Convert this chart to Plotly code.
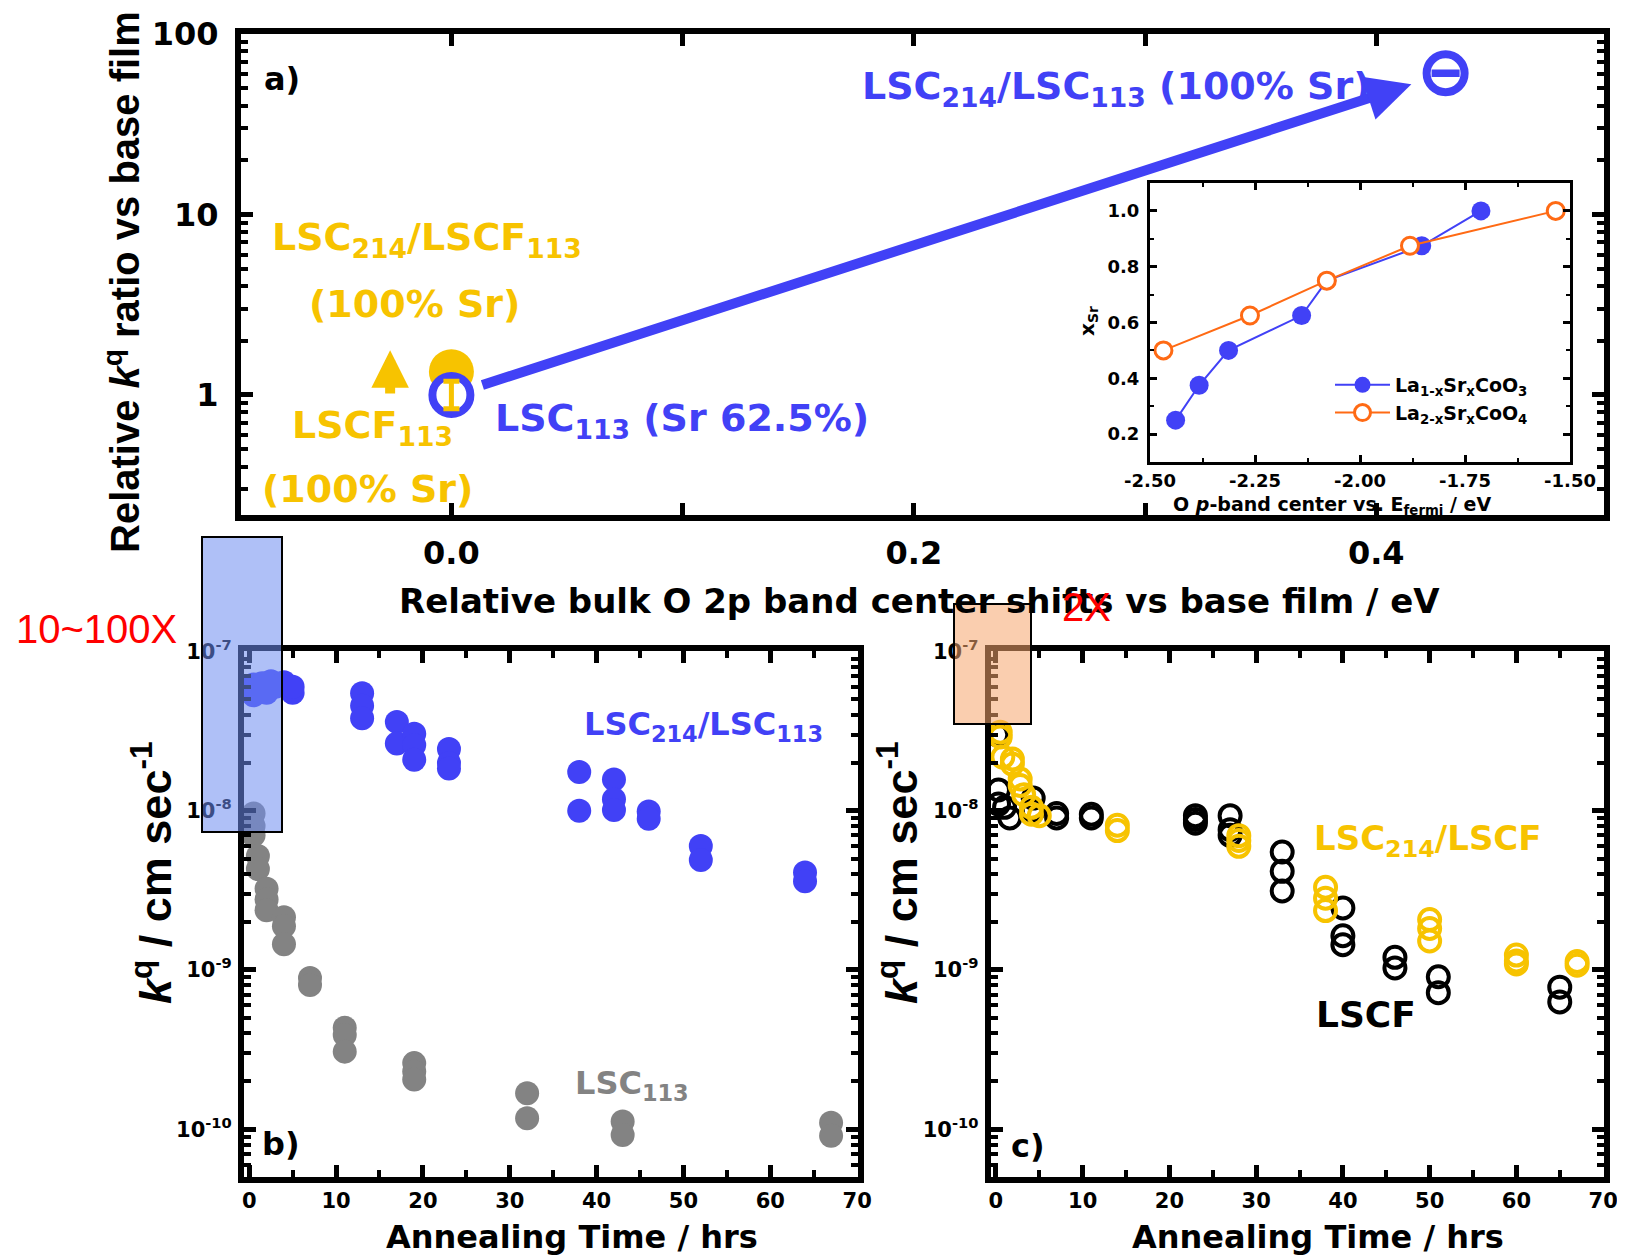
import numpy as np
import plotly.graph_objects as go

# page body margin (8 px) is compensated for by shrinking the figure and shifting coordinates
OFF = 8
W, H = 1625 - OFF, 1257 - OFF
def px(x): return (x - OFF) / W
def py(y): return 1 - (y - OFF) / H

BLUE = "#4141f6"
YELLOW = "#f7c300"
GRAY = "#838383"
ORANGE = "#ff6a14"
FH = "DejaVu Sans"          # horizontal text
FV = "Liberation Sans"      # rotated text
FR = "Liberation Sans"      # red notes

# ---------------- panel a data ----------------
a_lsc113_x = [0.0];  a_lsc113_y = [1.0]
a_lscf_x = [0.0];    a_lscf_y = [1.345]
a_214_x = [0.43];    a_214_y = [60.6]
a_lscf_err_plus = [0.19]; a_lscf_err_minus = [0.16]
a_214_err = [0.6]
a_up_arrow_x = -0.0265
a_up_arrow_y = [1.0, 1.77]

# ---------------- inset data ----------------
in_x_113 = [-2.439, -2.383, -2.313, -2.139, -2.079, -1.853, -1.712]
in_y_113 = [0.25, 0.375, 0.5, 0.625, 0.75, 0.875, 1.0]
in_x_214 = [-2.468, -2.262, -2.079, -1.881, -1.534]
in_y_214 = [0.5, 0.625, 0.75, 0.875, 1.0]

# ---------------- panel b data ----------------
b_t_214 = [0.5, 0.5, 1, 1.5, 2, 2.5, 3, 4, 5, 5,
           13, 13, 13, 17, 17, 19, 19, 19, 23, 23, 23,
           38, 38, 42, 42, 42, 46, 46, 52, 52, 64, 64]
b_k_214 = [5.3e-8, 6.2e-8, 5.8e-8, 6.3e-8, 5.5e-8, 6.5e-8, 6.0e-8, 6.4e-8, 5.5e-8, 6.0e-8,
           5.47e-8, 4.56e-8, 3.8e-8, 3.61e-8, 2.64e-8, 3.04e-8, 2.58e-8, 2.09e-8, 2.44e-8, 1.99e-8, 1.84e-8,
           1.75e-8, 1.0e-8, 1.57e-8, 1.18e-8, 1.01e-8, 9.87e-9, 8.9e-9, 6.0e-9, 4.9e-9, 4.09e-9, 3.6e-9]
b_t_113 = [0.5, 0.5, 0.5, 1, 1, 2, 2, 2, 4, 4, 4, 7, 7, 11, 11, 11,
           19, 19, 19, 32, 32, 43, 43, 67, 67]
b_k_113 = [9.6e-9, 8.0e-9, 7.0e-9, 5.2e-9, 4.3e-9, 3.24e-9, 2.77e-9, 2.37e-9,
           2.14e-9, 1.88e-9, 1.45e-9, 8.9e-10, 8.05e-10, 4.33e-10, 3.91e-10, 3.07e-10,
           2.6e-10, 2.3e-10, 2.05e-10, 1.68e-10, 1.17e-10, 1.12e-10, 9.2e-11, 1.1e-10, 9.1e-11]

# ---------------- panel c data ----------------
c_t_lscf = [0.1, 0.3, 0.3, 1.0, 1.6, 4.3, 4.3, 7, 7, 11, 11,
            23, 23, 23, 27, 27, 27, 33, 33, 33, 40, 40, 40, 46, 46, 51, 51, 65, 65]
c_k_lscf = [3.0e-8, 1.35e-8, 1.1e-8, 1.05e-8, 9.0e-9, 1.2e-8, 1.0e-8, 9.6e-9, 9.0e-9, 9.5e-9, 9.0e-9,
            9.3e-9, 8.8e-9, 8.35e-9, 9.3e-9, 7.6e-9, 7.0e-9, 5.5e-9, 4.16e-9, 3.13e-9,
            2.45e-9, 1.64e-9, 1.44e-9, 1.2e-9, 1.03e-9, 9.06e-10, 7.2e-10, 7.8e-10, 6.3e-10]
c_t_214 = [0.5, 0.5, 0.8, 1.9, 1.9, 2.8, 2.8, 3.2, 4.1, 4.1, 5.0,
           14, 14, 28, 28, 28, 38, 38, 38, 50, 50, 50, 60, 60, 60, 67, 67]
c_k_214 = [3.11e-8, 2.9e-8, 2.17e-8, 2.11e-8, 1.96e-8, 1.58e-8, 1.44e-8, 1.26e-8, 1.05e-8, 9.5e-9, 9.3e-9,
           8.1e-9, 7.5e-9, 6.97e-9, 6.5e-9, 5.97e-9, 3.3e-9, 2.82e-9, 2.36e-9,
           2.07e-9, 1.82e-9, 1.52e-9, 1.24e-9, 1.14e-9, 1.09e-9, 1.13e-9, 1.07e-9]

k_tickvals = [1e-10, 1e-9, 1e-8, 1e-7]
k_ticktext = ["10<sup>-10</sup>", "10<sup>-9</sup>", "10<sup>-8</sup>", "10<sup>-7</sup>"]

fig = go.Figure()

# panel a
fig.add_trace(go.Scatter(x=a_lscf_x, y=a_lscf_y, mode="markers", xaxis="x", yaxis="y",
                         marker=dict(size=45, color=YELLOW), showlegend=False))
fig.add_trace(go.Scatter(x=a_lsc113_x, y=a_lsc113_y, mode="markers", xaxis="x", yaxis="y",
                         marker=dict(size=38, color="white", line=dict(color=BLUE, width=8)),
                         showlegend=False))
fig.add_trace(go.Scatter(x=a_lsc113_x, y=a_lsc113_y, mode="markers", xaxis="x", yaxis="y",
                         marker=dict(size=1, color=YELLOW),
                         error_y=dict(type="data", array=a_lscf_err_plus, arrayminus=a_lscf_err_minus,
                                      color=YELLOW, thickness=5, width=8),
                         showlegend=False))
fig.add_trace(go.Scatter(x=a_214_x, y=a_214_y, mode="markers", xaxis="x", yaxis="y",
                         marker=dict(size=38, color="white", line=dict(color=BLUE, width=8)),
                         showlegend=False))
fig.add_trace(go.Scatter(x=a_214_x, y=a_214_y, mode="markers", xaxis="x", yaxis="y",
                         marker=dict(size=1, color=BLUE),
                         error_y=dict(type="data", array=a_214_err, color=BLUE, thickness=6, width=14),
                         showlegend=False))

# inset
fig.add_trace(go.Scatter(x=in_x_113, y=in_y_113, mode="lines+markers", xaxis="x4", yaxis="y4",
                         name="La<sub>1-x</sub>Sr<sub>x</sub>CoO<sub>3</sub>",
                         line=dict(color=BLUE, width=2),
                         marker=dict(size=19, color=BLUE)))
fig.add_trace(go.Scatter(x=in_x_214, y=in_y_214, mode="lines+markers", xaxis="x4", yaxis="y4",
                         name="La<sub>2-x</sub>Sr<sub>x</sub>CoO<sub>4</sub>",
                         line=dict(color=ORANGE, width=2),
                         marker=dict(size=17, color="white", line=dict(color=ORANGE, width=3))))

# panel b
fig.add_trace(go.Scatter(x=b_t_113, y=b_k_113, mode="markers", xaxis="x2", yaxis="y2",
                         marker=dict(size=24, color=GRAY), showlegend=False))
fig.add_trace(go.Scatter(x=b_t_214, y=b_k_214, mode="markers", xaxis="x2", yaxis="y2",
                         marker=dict(size=24, color=BLUE), showlegend=False))

# panel c
fig.add_trace(go.Scatter(x=c_t_lscf, y=c_k_lscf, mode="markers", xaxis="x3", yaxis="y3",
                         marker=dict(size=21, color="rgba(0,0,0,0)", line=dict(color="black", width=4)),
                         showlegend=False))
fig.add_trace(go.Scatter(x=c_t_214, y=c_k_214, mode="markers", xaxis="x3", yaxis="y3",
                         marker=dict(size=21, color="rgba(0,0,0,0)", line=dict(color=YELLOW, width=4)),
                         showlegend=False))


def axstyle(lw, tl, tw, fs, stand):
    return dict(showline=True, linecolor="black", linewidth=lw, mirror="ticks", ticks="inside",
                ticklen=tl, tickwidth=tw, tickcolor="black", showgrid=False, zeroline=False,
                ticklabelstandoff=stand, automargin=False,
                tickfont=dict(family=FH, size=fs, color="black", weight="bold"))

minor_log = lambda tl, tw: dict(ticks="inside", ticklen=tl, tickwidth=tw, tickcolor="black",
                               dtick="D1", showgrid=False)

fig.update_layout(
    template="none",
    width=W, height=H, margin=dict(l=0, r=0, t=0, b=0, autoexpand=False),
    paper_bgcolor="white", plot_bgcolor="rgba(0,0,0,0)",
    showlegend=True,
    xaxis=dict(domain=[px(241), px(1604)], range=[-0.091, 0.4985], anchor="y",
               tickvals=[0, 0.1, 0.2, 0.3, 0.4], ticktext=["0.0", "", "0.2", "", "0.4"],
               **axstyle(6, 12, 5, 32, 5)),
    yaxis=dict(domain=[py(515), py(34)], type="log", range=[np.log10(0.2163), 2], anchor="x",
               tickvals=[1, 10, 100], ticktext=["1", "10", "100"],
               minor=minor_log(7, 4), **axstyle(6, 12, 5, 32, 10)),
    xaxis2=dict(domain=[px(244), px(858)], range=[-0.6, 70.1], anchor="y2",
                tickvals=list(range(0, 71, 10)),
                minor=dict(ticks="inside", ticklen=7, tickwidth=4, tickcolor="black", dtick=5, showgrid=False),
                **axstyle(6, 12, 5, 21, 0)),
    yaxis2=dict(domain=[py(1177), py(651.4)], type="log", range=[-10.3, -7], anchor="x2",
                tickvals=k_tickvals, ticktext=k_ticktext,
                minor=minor_log(7, 4), **axstyle(6, 12, 5, 21, 2)),
    xaxis3=dict(domain=[px(990.7), px(1604)], range=[-0.6, 70.1], anchor="y3",
                tickvals=list(range(0, 71, 10)),
                minor=dict(ticks="inside", ticklen=7, tickwidth=4, tickcolor="black", dtick=5, showgrid=False),
                **axstyle(6, 12, 5, 21, 0)),
    yaxis3=dict(domain=[py(1177), py(651.4)], type="log", range=[-10.3, -7], anchor="x3",
                tickvals=k_tickvals, ticktext=k_ticktext,
                minor=minor_log(7, 4), **axstyle(6, 12, 5, 21, 2)),
    xaxis4=dict(domain=[px(1150), px(1570)], range=[-2.5, -1.5], anchor="y4",
                tickvals=[-2.5, -2.25, -2.0, -1.75, -1.5], ticktext=["-2.50", "-2.25", "-2.00", "-1.75", "-1.50"],
                minor=dict(ticks="inside", ticklen=4, tickwidth=2, tickcolor="black", dtick=0.125, tick0=-2.5, showgrid=False),
                **axstyle(3, 7, 3, 18, 0)),
    yaxis4=dict(domain=[py(462), py(183)], range=[0.1, 1.1], anchor="x4",
                tickvals=[0.2, 0.4, 0.6, 0.8, 1.0], ticktext=["0.2", "0.4", "0.6", "0.8", "1.0"],
                minor=dict(ticks="inside", ticklen=4, tickwidth=2, tickcolor="black", dtick=0.1, tick0=0, showgrid=False),
                **axstyle(3, 7, 3, 18, 4)),
    legend=dict(x=px(1330), y=py(366), xanchor="left", yanchor="top",
                bgcolor="rgba(0,0,0,0)", itemwidth=55, tracegroupgap=0,
                font=dict(family=FH, size=19, color="black", weight="bold")),
)

anns = []
def txt(x, y, s, size, color="black", family=FH, weight="bold", angle=0, xanchor="center"):
    anns.append(dict(x=px(x), y=py(y), xref="paper", yref="paper", text=s, showarrow=False,
                     xanchor=xanchor, yanchor="middle", textangle=angle,
                     font=dict(family=family, size=size, color=color, weight=weight)))

# panel a texts
txt(282, 79, "a)", 32)
txt(427, 240, "LSC<sub>214</sub>/LSCF<sub>113</sub>", 38, YELLOW)
txt(414, 304, "(100% Sr)", 38, YELLOW)
txt(372, 428, "LSCF<sub>113</sub>", 38, YELLOW)
txt(367, 489, "(100% Sr)", 38, YELLOW)
txt(682, 420, "LSC<sub>113</sub> (Sr 62.5%)", 38, BLUE)
txt(1116, 88, "LSC<sub>214</sub>/LSC<sub>113</sub> (100% Sr)", 38, BLUE)
txt(122, 282, "Relative <i>k</i><sup>q</sup> ratio vs base film", 40, family=FV, angle=-90)
txt(920, 601, "Relative bulk O 2p band center shifts vs base film / eV", 34)
# inset titles
txt(1332, 505, "O <i>p</i>-band center vs. E<sub>fermi</sub> / eV", 19)
txt(1088, 321, "x<sub>Sr</sub>", 20, angle=-90)
# panel b texts
txt(703, 726, "LSC<sub>214</sub>/LSC<sub>113</sub>", 32, BLUE)
txt(632, 1085, "LSC<sub>113</sub>", 32, GRAY)
txt(281, 1144, "b)", 32)
txt(152, 873, "<i>k</i><sup>q</sup> / cm sec<sup>-1</sup>", 45, family=FV, angle=-90)
txt(572, 1237, "Annealing Time / hrs", 32)
# panel c texts
txt(1428, 840, "LSC<sub>214</sub>/LSCF", 34, YELLOW)
txt(1366, 1014, "LSCF", 36)
txt(1028, 1146, "c)", 32)
txt(898, 873, "<i>k</i><sup>q</sup> / cm sec<sup>-1</sup>", 45, family=FV, angle=-90)
txt(1318, 1237, "Annealing Time / hrs", 32)
# red notes
txt(96, 629, "10~100X", 40, "#ff0000", family=FR, weight="normal")
txt(1086, 607, "2X", 40, "#ff0000", family=FR, weight="normal")

# arrows (from data points)
anns.append(dict(x=a_214_x[0], y=np.log10(a_214_y[0]), ax=a_lsc113_x[0], ay=np.log10(a_lsc113_y[0]),
                 xref="x", yref="y", axref="x", ayref="y", text="", showarrow=True,
                 arrowhead=2, arrowsize=0.9, arrowwidth=10, arrowcolor=BLUE,
                 standoff=36, startstandoff=31))
anns.append(dict(x=a_up_arrow_x, y=np.log10(a_up_arrow_y[1]), ax=a_up_arrow_x, ay=np.log10(a_up_arrow_y[0]),
                 xref="x", yref="y", axref="x", ayref="y", text="", showarrow=True,
                 arrowhead=2, arrowsize=0.75, arrowwidth=10, arrowcolor=YELLOW))
fig.update_layout(annotations=anns)

fig.update_layout(shapes=[
    dict(type="rect", xref="paper", yref="paper", x0=px(202), x1=px(282), y0=py(832), y1=py(537),
         fillcolor="rgba(110,140,240,0.55)", line=dict(color="black", width=2), layer="above"),
    dict(type="rect", xref="paper", yref="paper", x0=px(954), x1=px(1031), y0=py(724), y1=py(604),
         fillcolor="rgba(245,165,110,0.55)", line=dict(color="black", width=2), layer="above"),
])

fig.write_html("out.html")
